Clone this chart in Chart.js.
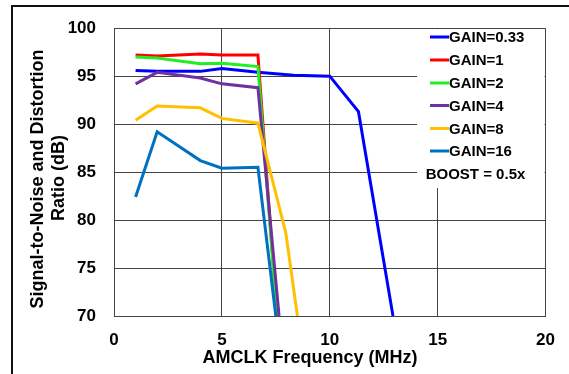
<!DOCTYPE html>
<html>
<head>
<meta charset="utf-8">
<script src="https://cdn.jsdelivr.net/npm/chart.js@4.4.1/dist/chart.umd.min.js"></script>
<style>
html,body{margin:0;padding:0;background:#fff;}
#wrap{width:569px;height:374px;position:relative;}
</style>
</head>
<body>
<div id="wrap"><canvas id="c" width="569" height="374"></canvas></div>
<script>
// ---- data ----
const seriesLabels = ['GAIN=0.33','GAIN=1','GAIN=2','GAIN=4','GAIN=8','GAIN=16'];
const seriesColors = ['#0000ff','#ff0000','#22ee22','#7030a0','#ffc000','#0070c0'];

const freqGain033 = [1, 2, 4, 5, 6.67, 8.33, 10, 11.33, 12.93];
const snrGain033  = [95.6, 95.5, 95.5, 95.8, 95.4, 95.1, 95.0, 91.3, 70];

const freqGain1 = [1, 2, 4, 5, 6.67, 7.55];
const snrGain1  = [97.2, 97.1, 97.3, 97.2, 97.2, 70];

const freqGain2 = [1, 2, 4, 5, 6.67, 7.55];
const snrGain2  = [97.0, 96.9, 96.3, 96.35, 96.0, 70];

const freqGain4 = [1, 2, 4, 5, 6.67, 7.65];
const snrGain4  = [94.2, 95.4, 94.8, 94.2, 93.8, 70];

const freqGain8 = [1, 2, 4, 5, 6.67, 7.96, 8.5];
const snrGain8  = [90.4, 91.9, 91.7, 90.6, 90.1, 78.7, 70];

const freqGain16 = [1, 2, 4, 5, 6.67, 7.5];
const snrGain16  = [82.4, 89.2, 86.2, 85.4, 85.5, 70];

const xTicks = [0, 5, 10, 15, 20];
const yTicks = [70, 75, 80, 85, 90, 95, 100];
const xTitle = 'AMCLK Frequency (MHz)';
const yTitle = ['Signal-to-Noise and Distortion', 'Ratio (dB)'];
const noteText = 'BOOST = 0.5x';

const freqs = [freqGain033, freqGain1, freqGain2, freqGain4, freqGain8, freqGain16];
const snrs  = [snrGain033, snrGain1, snrGain2, snrGain4, snrGain8, snrGain16];

const datasets = seriesLabels.map((lab, i) => ({
  label: lab,
  data: freqs[i].map((f, k) => ({x: f, y: snrs[i][k]})),
  borderColor: seriesColors[i],
  backgroundColor: seriesColors[i],
  borderWidth: 3,
  pointRadius: 0,
  tension: 0,
  fill: false,
  order: -i
}));

const FONT = '"Liberation Sans", Arial, sans-serif';

const decor = {
  id: 'decor',
  beforeDraw(chart) {
    const ctx = chart.ctx;
    ctx.save();
    ctx.fillStyle = '#fff';
    ctx.fillRect(0, 0, chart.width, chart.height);
    ctx.strokeStyle = '#111';
    ctx.lineWidth = 2;
    ctx.beginPath();
    ctx.moveTo(12, chart.height);
    ctx.lineTo(12, 6);
    ctx.lineTo(chart.width, 6);
    ctx.stroke();
    ctx.restore();
  },
  beforeDatasetsDraw(chart) {
    const ctx = chart.ctx;
    const a = chart.chartArea;
    ctx.save();
    ctx.fillStyle = '#fff';
    ctx.fillRect(417, a.top + 1, a.right - 1 - 417, 188 - a.top - 1);
    ctx.restore();
  },
  afterDatasetsDraw(chart) {
    const ctx = chart.ctx;
    ctx.save();
    ctx.font = 'bold 15px ' + FONT;
    ctx.textBaseline = 'middle';
    ctx.textAlign = 'left';
    const ys = [37, 60, 83, 105.5, 128.5, 151];
    chart.data.datasets.forEach((ds, i) => {
      ctx.strokeStyle = ds.borderColor;
      ctx.lineWidth = 3;
      ctx.beginPath();
      ctx.moveTo(430, ys[i]);
      ctx.lineTo(449, ys[i]);
      ctx.stroke();
      ctx.fillStyle = '#000';
      ctx.fillText(ds.label, 449, ys[i] + 1);
    });
    ctx.textAlign = 'center';
    ctx.fillText(noteText, 475.5, 175);
    ctx.font = 'bold 18px ' + FONT;
    ctx.fillText(xTitle, 310, 358);
    ctx.save();
    ctx.translate(38, 179);
    ctx.rotate(-Math.PI / 2);
    ctx.fillText(yTitle[0], 0, 0);
    ctx.restore();
    ctx.save();
    ctx.translate(59, 178);
    ctx.rotate(-Math.PI / 2);
    ctx.fillText(yTitle[1], 0, 0);
    ctx.restore();
    ctx.restore();
  }
};

new Chart(document.getElementById('c'), {
  type: 'line',
  data: { datasets },
  plugins: [decor],
  options: {
    responsive: false,
    animation: false,
    events: [],
    layout: { padding: { left: 0, top: 23, right: 23, bottom: 0 } },
    plugins: { legend: { display: false }, tooltip: { enabled: false }, title: { display: false } },
    scales: {
      x: {
        type: 'linear',
        min: 0, max: 20,
        afterBuildTicks: s => { s.ticks = xTicks.map(v => ({value: v})); },
        afterFit: s => { s.height = 58; },
        grid: { color: '#444', lineWidth: 1, drawTicks: false },
        border: { display: true, color: '#444', width: 1 },
        ticks: { color: '#000', padding: 14, font: { family: FONT, size: 17, weight: 'bold' }, maxRotation: 0 }
      },
      y: {
        type: 'linear',
        min: 70, max: 100,
        afterBuildTicks: s => { s.ticks = yTicks.map(v => ({value: v})); },
        afterFit: s => { s.width = 114; },
        grid: { color: '#444', lineWidth: 1, drawTicks: false },
        border: { display: true, color: '#444', width: 1 },
        ticks: { color: '#000', padding: 18, font: { family: FONT, size: 17, weight: 'bold' } }
      }
    }
  }
});
</script>
</body>
</html>
